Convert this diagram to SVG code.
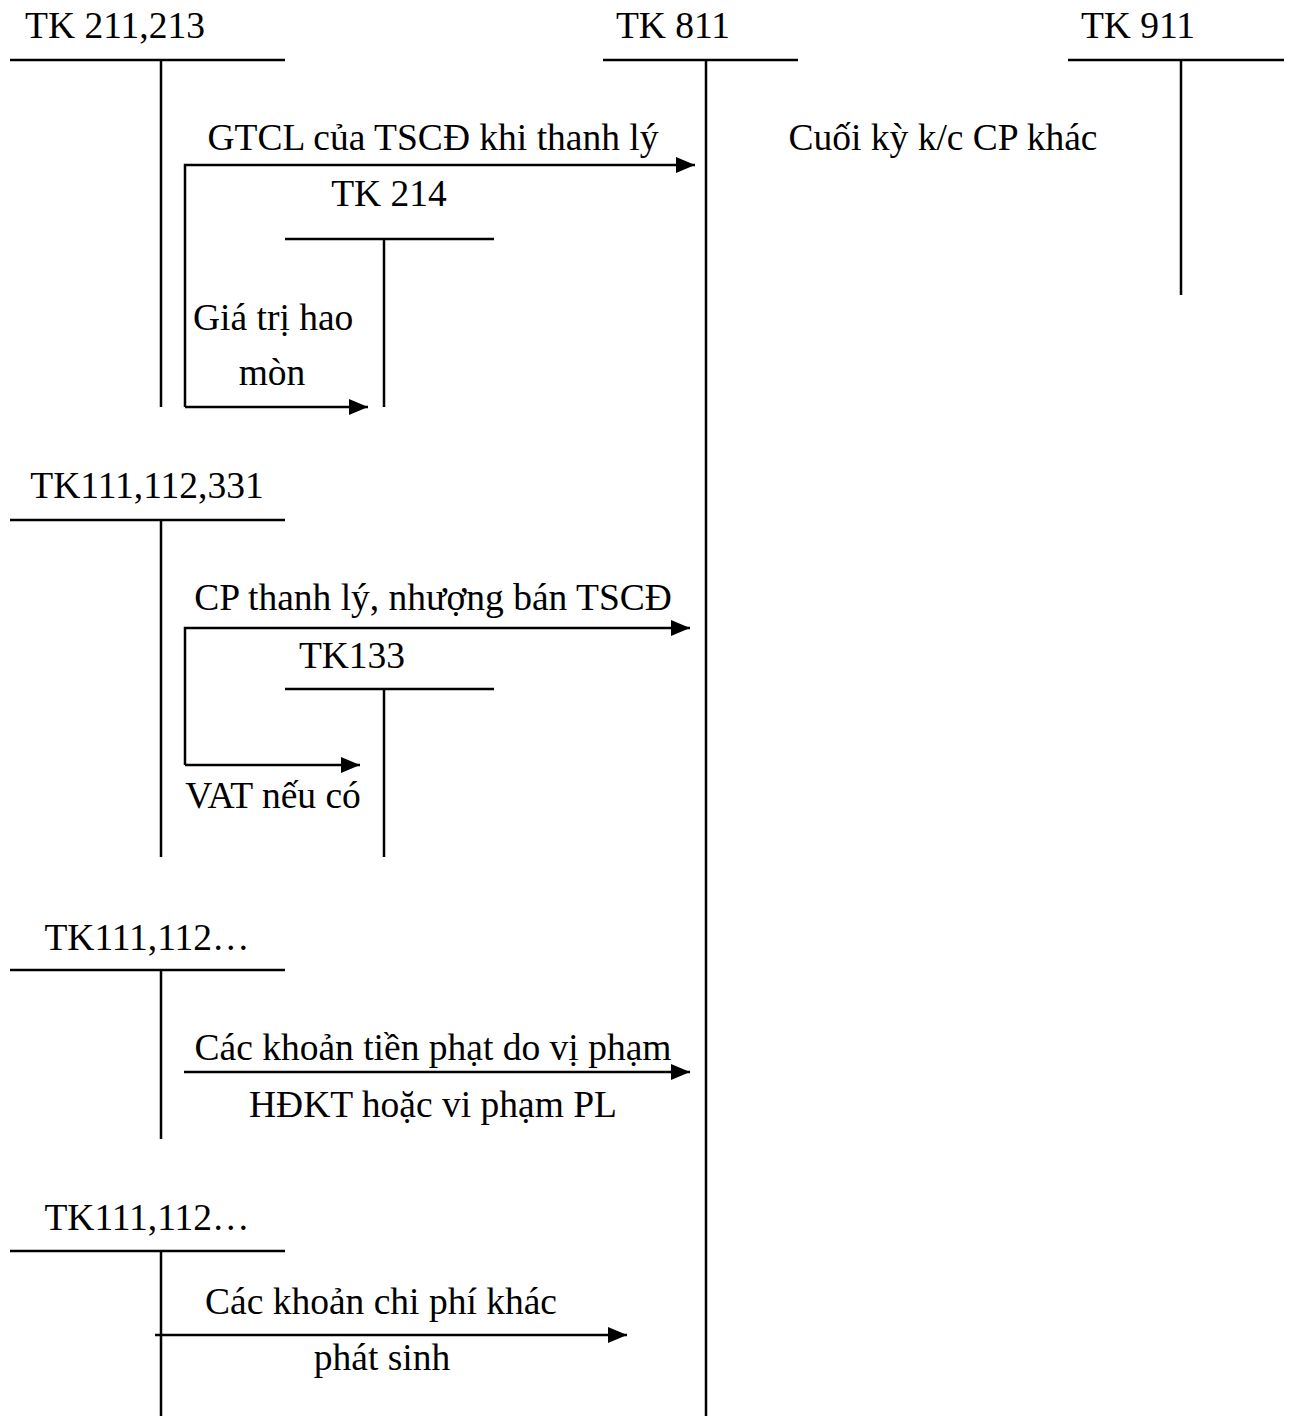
<svg xmlns="http://www.w3.org/2000/svg" width="1293" height="1416" viewBox="0 0 1293 1416">
<style>
text{font-family:"Liberation Serif","Times New Roman",serif;font-size:37.5px;fill:#000}
.m{text-anchor:middle}
.ln{stroke:#000;stroke-width:2.5;fill:none}
</style>
<defs>
<marker id="ah" markerUnits="userSpaceOnUse" markerWidth="20" markerHeight="16" refX="19" refY="8" orient="auto">
<path d="M0,0 L19,8 L0,16 Z" fill="#000"/>
</marker>
</defs>
<rect width="1293" height="1416" fill="#fff"/>
<g id="tk211">
<text x="115" y="38" class="m">TK 211,213</text>
<path class="ln" d="M10,60 H285 M161,60 V407"/>
</g>
<g id="tk811">
<text x="673" y="38" class="m">TK 811</text>
<path class="ln" d="M603,60 H798 M706,60 V1416"/>
</g>
<g id="tk911">
<text x="1138" y="38" class="m">TK 911</text>
<path class="ln" d="M1068,60 H1284 M1181,60 V295"/>
<text x="943" y="150" class="m">Cuối kỳ k/c CP khác</text>
</g>
<g id="tk214">
<text x="389" y="206" class="m">TK 214</text>
<path class="ln" d="M285,239 H494 M384,239 V407"/>
</g>
<g id="tk111a">
<text x="147" y="498" class="m">TK111,112,331</text>
<path class="ln" d="M10,520 H285 M161,520 V857"/>
</g>
<g id="tk133">
<text x="352" y="668" class="m">TK133</text>
<path class="ln" d="M285,689 H494 M384,689 V857"/>
</g>
<g id="tk111b">
<text x="147" y="950" class="m">TK111,112…</text>
<path class="ln" d="M10,970 H285 M161,970 V1139"/>
</g>
<g id="tk111c">
<text x="147" y="1230" class="m">TK111,112…</text>
<path class="ln" d="M10,1251 H285 M161,1251 V1416"/>
</g>
<g id="connectors">
<path class="ln" d="M185,407 V165 H695" marker-end="url(#ah)"/>
<path class="ln" d="M185,407 H368" marker-end="url(#ah)"/>
<path class="ln" d="M185,765 V628 H690" marker-end="url(#ah)"/>
<path class="ln" d="M185,765 H360" marker-end="url(#ah)"/>
<path class="ln" d="M184,1072 H690" marker-end="url(#ah)"/>
<path class="ln" d="M155,1335 H627" marker-end="url(#ah)"/>
<text x="433" y="150" class="m">GTCL của TSCĐ khi thanh lý</text>
<text x="193" y="330">Giá trị hao</text>
<text x="272" y="385" class="m">mòn</text>
<text x="433" y="610" class="m">CP thanh lý, nhượng bán TSCĐ</text>
<text x="273" y="808" class="m">VAT nếu có</text>
<text x="433" y="1060" class="m">Các khoản tiền phạt do vị phạm</text>
<text x="433" y="1117" class="m">HĐKT hoặc vi phạm PL</text>
<text x="381" y="1314" class="m">Các khoản chi phí khác</text>
<text x="382" y="1370" class="m">phát sinh</text>
</g>
</svg>
